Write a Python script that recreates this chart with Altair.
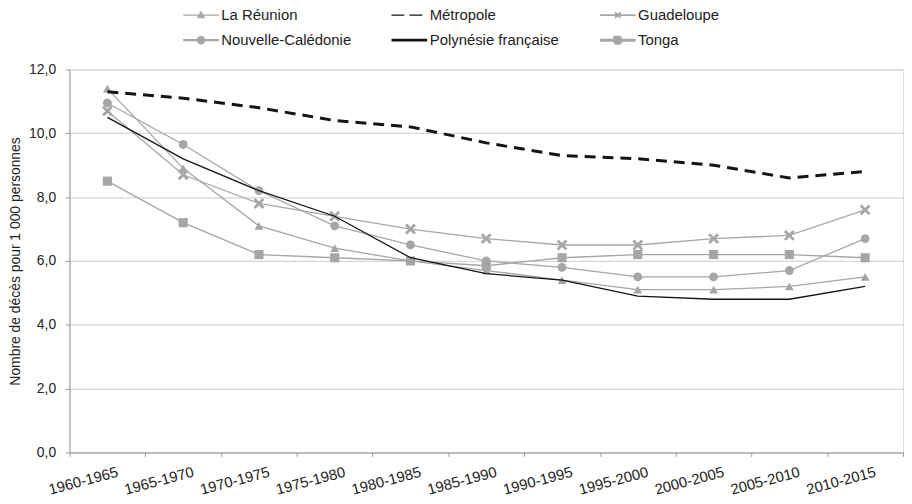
import altair as alt
import pandas as pd

periods = ["1960-1965", "1965-1970", "1970-1975", "1975-1980", "1980-1985", "1985-1990",
           "1990-1995", "1995-2000", "2000-2005", "2005-2010", "2010-2015"]
series_names = ["La Réunion", "Métropole", "Guadeloupe",
                "Nouvelle-Calédonie", "Polynésie française", "Tonga"]

reunion = [11.4, 8.9, 7.1, 6.4, 6.0, 5.7, 5.4, 5.1, 5.1, 5.2, 5.5]
metropole = [11.3, 11.1, 10.8, 10.4, 10.2, 9.7, 9.3, 9.2, 9.0, 8.6, 8.8]
guadeloupe = [10.7, 8.7, 7.8, 7.4, 7.0, 6.7, 6.5, 6.5, 6.7, 6.8, 7.6]
nouvelle_caledonie = [10.95, 9.65, 8.2, 7.1, 6.5, 6.0, 5.8, 5.5, 5.5, 5.7, 6.7]
polynesie = [10.5, 9.2, 8.2, 7.4, 6.1, 5.6, 5.4, 4.9, 4.8, 4.8, 5.2]
tonga = [8.5, 7.2, 6.2, 6.1, 6.0, 5.85, 6.1, 6.2, 6.2, 6.2, 6.1]

values = [reunion, metropole, guadeloupe, nouvelle_caledonie, polynesie, tonga]
rows = []
for name, vals in zip(series_names, values):
    for p, v in zip(periods, vals):
        rows.append({"period": p, "series": name, "value": v})
df = pd.DataFrame(rows)

GRAY = "#a6a6a6"
BLACK = "#141414"
FONT = "Liberation Sans"

x = alt.X("period:O", sort=periods,
          scale=alt.Scale(type="band", paddingInner=0, paddingOuter=0),
          axis=alt.Axis(title=None, labelAngle=345, labelAlign="right", labelBaseline="top",
                        tickBand="extent", labelFontSize=15, labelFont=FONT, labelColor="#222",
                        labelPadding=8, labelOffset=8, tickSize=4, tickColor="#9a9a9a",
                        domainColor="#9a9a9a", grid=False))
y = alt.Y("value:Q", scale=alt.Scale(domain=[0, 12], nice=False),
          axis=alt.Axis(values=[0, 2, 4, 6, 8, 10, 12],
                        labelExpr="replace(format(datum.value, '.1f'), '.', ',')",
                        title="Nombre de décès pour 1 000 personnes",
                        titleFont=FONT, titleFontSize=14, titleFontWeight="normal",
                        titleColor="#222", titlePadding=6,
                        labelFont=FONT, labelFontSize=14, labelColor="#222", labelPadding=10,
                        tickSize=4, tickColor="#9a9a9a", domainColor="#9a9a9a",
                        grid=True, gridColor="#d6d6d6", gridWidth=1.2))

gray_series = ["La Réunion", "Guadeloupe", "Nouvelle-Calédonie", "Tonga"]

gray_lines = alt.Chart(df).transform_filter(
    alt.FieldOneOfPredicate(field="series", oneOf=gray_series)
).mark_line(color=GRAY, strokeWidth=1.3).encode(x=x, y=y, detail="series:N")

x_path = "M-1,-0.64L-0.64,-1L0,-0.36L0.64,-1L1,-0.64L0.36,0L1,0.64L0.64,1L0,0.36L-0.64,1L-1,0.64L-0.36,0Z"
marker_shapes = {"La Réunion": ("triangle-up", 80), "Guadeloupe": (x_path, 120),
                 "Nouvelle-Calédonie": ("circle", 80), "Tonga": ("square", 85)}
point_layers = []
for name in gray_series:
    shp, sz = marker_shapes[name]
    point_layers.append(
        alt.Chart(df).transform_filter(alt.datum.series == name)
        .mark_point(filled=True, color=GRAY, shape=shp, size=sz, opacity=1)
        .encode(x=x, y=y)
    )

metro_line = alt.Chart(df).transform_filter(alt.datum.series == "Métropole").mark_line(
    color=BLACK, strokeWidth=3, strokeDash=[11, 7]).encode(x=x, y=y)
poly_line = alt.Chart(df).transform_filter(alt.datum.series == "Polynésie française").mark_line(
    color=BLACK, strokeWidth=1.3).encode(x=x, y=y)

# legend-only layer (draws nothing on the plot)
L0, L1, M = -1.25, 7.75, 3.25
leg_shapes = [
    f"M{L0},0H{L1}M{M},-0.85L{M+0.85},0.65L{M-0.85},0.65Z",
    f"M{L0},0H6.5",
    f"M{L0},0H{L1}M{M-0.7},-0.7L{M+0.7},0.7M{M-0.7},0.7L{M+0.7},-0.7",
    f"M{L0},0H{L1}M{M-0.8},0A0.8,0.8,0,1,0,{M+0.8},0A0.8,0.8,0,1,0,{M-0.8},0Z",
    f"M{L0},0H{L1}",
    f"M{L0},0H{L1}M{M-0.75},-0.75H{M+0.75}V0.75H{M-0.75}Z",
]
leg_colors = [GRAY, BLACK, GRAY, GRAY, BLACK, GRAY]
leg_dash = [[1, 0], [13, 5], [1, 0], [1, 0], [1, 0], [1, 0]]
leg_width = [1.1, 3, 1.1, 1.1, 1.1, 1.1]

legend = alt.Legend(title=None, orient="none", direction="horizontal", legendX=112, legendY=-63,
                    columns=3, columnPadding=34, rowPadding=7, gridAlign="all", symbolSize=64,
                    symbolOffset=0, labelOffset=26, labelFont=FONT, labelFontSize=15,
                    labelColor="#222", labelLimit=300, padding=0)

legend_layer = alt.Chart(df).transform_filter("false").mark_point(filled=True, opacity=1).encode(
    fill=alt.Fill("series:N", scale=alt.Scale(domain=series_names, range=leg_colors), legend=legend),
    stroke=alt.Stroke("series:N", scale=alt.Scale(domain=series_names, range=leg_colors), legend=legend),
    shape=alt.Shape("series:N", scale=alt.Scale(domain=series_names, range=leg_shapes), legend=legend),
    strokeDash=alt.StrokeDash("series:N", scale=alt.Scale(domain=series_names, range=leg_dash), legend=legend),
    strokeWidth=alt.StrokeWidth("series:N", scale=alt.Scale(domain=series_names, range=leg_width), legend=legend),
)

chart = alt.layer(gray_lines, *point_layers, poly_line, metro_line, legend_layer).properties(
    width=840, height=386, padding={"left": 0, "top": -3, "right": 0, "bottom": 0}
).configure_view(stroke=None).configure(background="white")

chart.save("out.html", embed_options={"renderer": "svg", "actions": False})
